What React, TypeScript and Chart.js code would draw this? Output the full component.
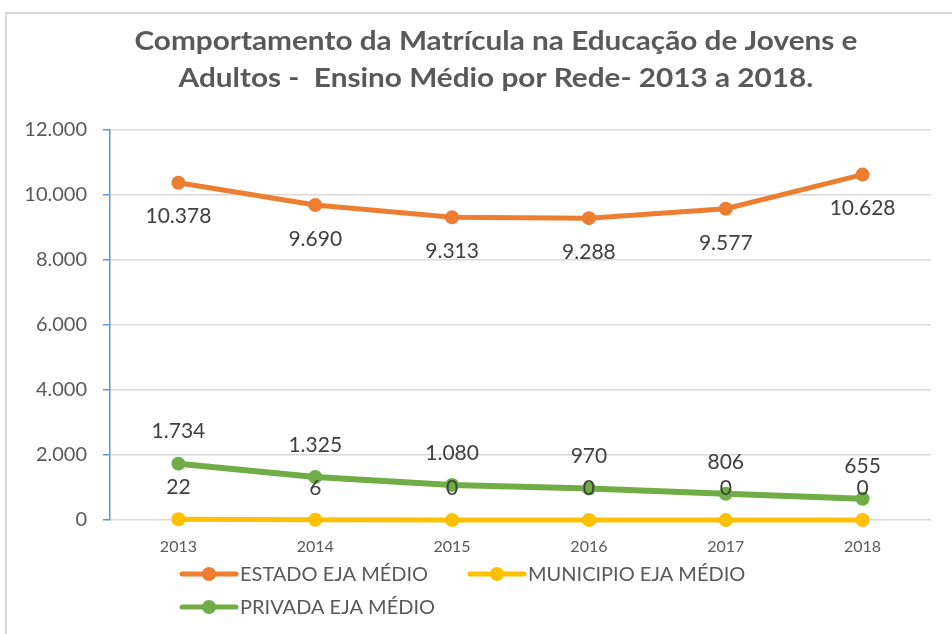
import React, { useEffect, useRef } from "react";
import { Chart, registerables } from "chart.js";

Chart.register(...registerables);

const years = ["2013", "2014", "2015", "2016", "2017", "2018"];
const estado = [10378, 9690, 9313, 9288, 9577, 10628];
const municipio = [22, 6, 0, 0, 0, 0];
const privada = [1734, 1325, 1080, 970, 806, 655];
const seriesNames = ["ESTADO EJA MÉDIO", "MUNICIPIO EJA MÉDIO", "PRIVADA EJA MÉDIO"];
const seriesColors = ["#ED7D31", "#FFC000", "#70AD47"];
const labelSides = ["below", "above", "above"];
const yMin = 0;
const yMax = 12000;
const yStep = 2000;
const titleLines = [
  "Comportamento da Matrícula na Educação de Jovens e",
  "Adultos -  Ensino Médio por Rede- 2013 a 2018.",
];

const FONT = "Lato, 'Open Sans', sans-serif";

const fmt = (v: number) =>
  String(Math.round(v)).replace(/\B(?=(\d{3})+(?!\d))/g, ".");

const framePlugin = {
  id: "frame",
  beforeDraw(chart: any) {
    const ctx = chart.ctx;
    ctx.save();
    ctx.fillStyle = "#ffffff";
    ctx.fillRect(0, 0, chart.width, chart.height);
    ctx.strokeStyle = "#D9D9D9";
    ctx.lineWidth = 2;
    ctx.strokeRect(6, 13, chart.width + 20, chart.height + 20);
    ctx.restore();
  },
};

const titlePlugin = {
  id: "customTitle",
  afterDraw(chart: any) {
    const ctx = chart.ctx;
    ctx.save();
    ctx.fillStyle = "#595959";
    ctx.font = `bold 27px ${FONT}`;
    ctx.textAlign = "center";
    ctx.textBaseline = "middle";
    const cx = 496;
    const w0 = ctx.measureText(titleLines[0]).width;
    const sx = 723 / w0;
    titleLines.forEach((line, i) => {
      ctx.save();
      ctx.translate(cx, 41 + i * 37);
      ctx.scale(sx, 1);
      ctx.fillText(line, 0, 0);
      ctx.restore();
    });
    ctx.restore();
  },
};

const dataLabelPlugin = {
  id: "dataLabels",
  afterDatasetsDraw(chart: any) {
    const ctx = chart.ctx;
    ctx.save();
    ctx.font = `21px ${FONT}`;
    ctx.fillStyle = "#404040";
    ctx.textAlign = "center";
    ctx.textBaseline = "middle";
    chart.data.datasets.forEach((ds: any, di: number) => {
      const meta = chart.getDatasetMeta(di);
      meta.data.forEach((pt: any, i: number) => {
        const v = ds.data[i];
        const off = labelSides[di] === "below" ? 34 : -32;
        ctx.fillText(fmt(v), pt.x, pt.y + off);
      });
    });
    ctx.restore();
  },
};

const legendPlugin = {
  id: "customLegend",
  afterDraw(chart: any) {
    const ctx = chart.ctx;
    const spots = [
      { x: 182, y: 574 },
      { x: 470, y: 574 },
      { x: 182, y: 607 },
    ];
    ctx.save();
    ctx.font = `20px ${FONT}`;
    ctx.textBaseline = "middle";
    ctx.textAlign = "left";
    chart.data.datasets.forEach((ds: any, di: number) => {
      const s = spots[di];
      ctx.strokeStyle = ds.borderColor;
      ctx.lineWidth = 5;
      ctx.lineCap = "round";
      ctx.beginPath();
      ctx.moveTo(s.x, s.y);
      ctx.lineTo(s.x + 54, s.y);
      ctx.stroke();
      ctx.fillStyle = ds.borderColor;
      ctx.beginPath();
      ctx.arc(s.x + 27, s.y, 7, 0, Math.PI * 2);
      ctx.fill();
      ctx.fillStyle = "#595959";
      ctx.fillText(ds.label, s.x + 58, s.y + 1);
    });
    ctx.restore();
  },
};

export default function App() {
  const ref = useRef<HTMLCanvasElement | null>(null);

  useEffect(() => {
    if (!ref.current) return;
    const series = [estado, municipio, privada];
    const chart = new Chart(ref.current, {
      type: "line",
      data: {
        labels: years,
        datasets: series.map((d, i) => ({
          label: seriesNames[i],
          data: d,
          borderColor: seriesColors[i],
          backgroundColor: seriesColors[i],
          pointBackgroundColor: seriesColors[i],
          pointBorderColor: seriesColors[i],
          pointBorderWidth: 0,
          pointRadius: 7,
          borderWidth: i === 2 ? 6 : 5,
          tension: 0,
          fill: false,
          clip: false,
        })),
      },
      options: {
        responsive: false,
        animation: false,
        devicePixelRatio: 1,
        layout: { padding: { top: 130, right: 21, bottom: 0, left: 0 } },
        plugins: {
          legend: { display: false },
          title: { display: false },
          tooltip: { enabled: false },
        },
        scales: {
          x: {
            offset: true,
            grid: { display: false, drawTicks: false },
            border: { display: false },
            ticks: {
              padding: 17,
              color: "#595959",
              font: { family: FONT, size: 16 },
            },
            afterFit: (s: any) => {
              s.height = 114;
            },
          },
          y: {
            min: yMin,
            max: yMax,
            grid: {
              color: "#D9D9D9",
              lineWidth: 1.5,
              tickColor: "#5B9BD5",
              tickLength: 7,
              drawTicks: true,
            },
            border: { display: true, color: "#5B9BD5", width: 1.5 },
            ticks: {
              stepSize: yStep,
              padding: 16,
              color: "#595959",
              font: { family: FONT, size: 20 },
              callback: (v: any) => fmt(Number(v)),
            },
            afterFit: (s: any) => {
              s.width = 110;
            },
          },
        },
      },
      plugins: [framePlugin, dataLabelPlugin, titlePlugin, legendPlugin],
    });
    return () => chart.destroy();
  }, []);

  return (
    <div style={{ position: "absolute", left: 0, top: 0, width: 952, height: 634 }}>
      <canvas ref={ref} width={952} height={634} style={{ display: "block" }} />
    </div>
  );
}
